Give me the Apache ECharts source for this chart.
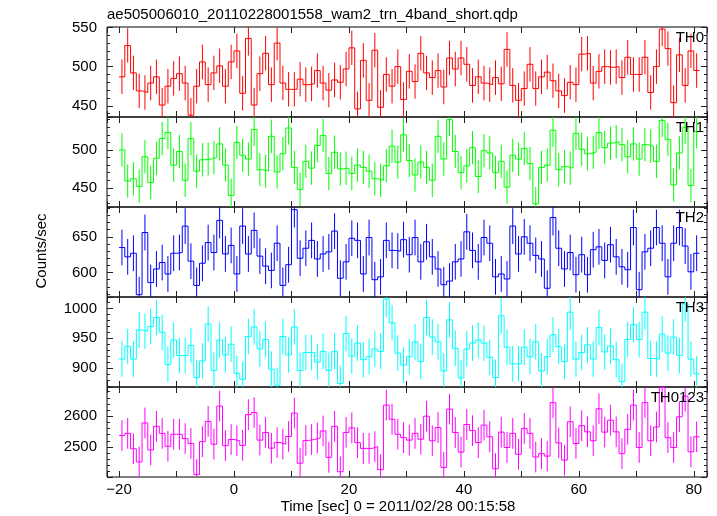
<!DOCTYPE html>
<html><head><meta charset="utf-8">
<script src="https://cdn.jsdelivr.net/npm/echarts@6/dist/echarts.min.js"></script>
<style>html,body{margin:0;padding:0;background:#fff}#c{width:717px;height:516px}</style>
</head><body><div id="c"></div>
<script>
const chartTitle = 'ae505006010_20110228001558_wam2_trn_4band_short.qdp';
const xTitle = 'Time [sec] 0 = 2011/02/28 00:15:58';
const yTitle = 'Counts/sec';
const bandNames = ['TH0', 'TH1', 'TH2', 'TH3', 'TH0123'];
const bandColors = ['#ff0000', '#00ff00', '#0000ff', '#00ffff', '#ff00ff'];
const binStart = -20;
const binWidth = 1;

const th0 = [487, 527, 492, 469, 467, 479, 487, 451, 475, 485, 491, 479, 438, 475, 506, 477, 492, 501, 475, 506,
  520, 466, 536, 451, 491, 517, 477, 530, 479, 471, 471, 484, 477, 478, 495, 479, 470, 483, 480, 497,
  524, 446, 508, 457, 521, 448, 490, 475, 500, 458, 494,
  481, 517, 492, 486, 495, 474, 511, 497, 511, 503, 476, 487, 479, 477, 486, 478, 522, 476, 457, 472,
  503, 472, 487, 493, 482, 469, 463, 480, 477, 516, 517, 479, 494, 500, 499, 500, 486, 512, 490, 490,
  512, 467, 500, 548, 523, 454, 515, 476, 520, 495];
const th1 = [500, 459, 462, 452, 491, 457, 489, 515, 523, 480, 498, 460, 515, 472, 487, 488, 490, 508, 480, 440,
  510, 493, 488, 527, 474, 472, 518, 471, 495, 529, 477, 448, 485, 476, 506, 519, 469, 497, 475, 476,
  469, 480, 477, 472, 462, 460, 479, 505, 484, 520, 486,
  467, 484, 477, 460, 518, 488, 540, 498, 470, 479, 503, 465, 499, 496, 470, 485, 451, 493, 488, 502,
  482, 429, 477, 480, 526, 474, 478, 476, 522, 501, 495, 497, 523, 503, 509, 511, 507, 491, 508, 488,
  507, 505, 485, 539, 514, 454, 496, 530, 453, 524];
const th2 = [635, 622, 627, 569, 656, 586, 605, 614, 598, 627, 628, 665, 616, 582, 613, 642, 628, 673, 626, 638,
  598, 665, 626, 659, 623, 609, 603, 641, 582, 611, 688, 620, 634, 645, 619, 626, 629, 658, 592, 615,
  648, 645, 598, 649, 590, 594, 645, 631, 630, 646, 625,
  649, 615, 643, 622, 605, 583, 588, 615, 619, 657, 631, 615, 649, 641, 594, 598, 591, 665, 626, 650,
  641, 624, 619, 578, 677, 634, 605, 628, 597, 625, 597, 632, 636, 617, 639, 622, 608, 604, 663, 576,
  629, 634, 663, 641, 594, 641, 663, 637, 601, 627];
const th3 = [915, 936, 915, 964, 962, 970, 985, 960, 906, 947, 921, 921, 938, 884, 912, 974, 896, 947, 922, 940,
  891, 881, 953, 969, 932, 948, 898, 871, 953, 922, 969, 896, 926, 926, 910, 928, 896, 928, 874, 958,
  920, 942, 914, 919, 932, 928, 1016, 976, 925, 905, 919,
  944, 911, 985, 952, 944, 895, 981, 933, 883, 932, 942, 947, 942, 918, 884, 988, 935, 907, 907, 935,
  919, 944, 895, 919, 956, 936, 911, 994, 915, 926, 939, 915, 968, 927, 937, 914, 877, 948, 973, 948,
  994, 916, 915, 957, 925, 952, 921, 1008, 915, 890];
const th0123 = [2537, 2544, 2494, 2451, 2578, 2490, 2567, 2544, 2502, 2541, 2541, 2527, 2511, 2410, 2517, 2583, 2509, 2633, 2504, 2524,
  2520, 2505, 2605, 2612, 2522, 2547, 2496, 2514, 2509, 2534, 2610, 2447, 2521, 2524, 2529, 2552, 2466, 2567, 2419, 2547,
  2562, 2514, 2495, 2495, 2501, 2426, 2636, 2590, 2541, 2530, 2522,
  2544, 2525, 2600, 2520, 2563, 2433, 2623, 2547, 2483, 2573, 2553, 2514, 2571, 2533, 2429, 2548, 2498, 2544, 2476, 2560,
  2544, 2467, 2478, 2470, 2644, 2513, 2457, 2582, 2511, 2569, 2549, 2520, 2624, 2548, 2587, 2549, 2478, 2557, 2636, 2498,
  2644, 2520, 2565, 2694, 2530, 2498, 2598, 2665, 2484, 2533];

const errHalf = [22, 22, 25, 30, 50];
const yMinVals = [435.7, 424.7, 565.8, 868, 2402];
const yMaxVals = [550.6, 543.5, 691.7, 1019.5, 2695];
const yStep = [50, 50, 50, 50, 100];
const xMin = -22.1, xMax = 82.3, xTickStep = 10, xLabelStep = 20;

const bands = [th0, th1, th2, th3, th0123];

const FONT = 'Liberation Sans, Helvetica, Arial, sans-serif';
const L = 107, R = 10, TOP = 27, PH = 90;
const tickStyle = { color: '#222', width: 1 };

function fmtNum(v) { return v < 0 ? '\u2212' + Math.abs(v) : String(v); }

const grids = [], xAxes = [], yAxes = [], series = [], graphics = [];
bands.forEach((vals, k) => {
  grids.push({ left: L, right: R, top: TOP + PH * k, height: PH, show: true, borderColor: '#000', borderWidth: 1, backgroundColor: 'transparent' });
  ['bottom', 'top'].forEach(pos => {
    xAxes.push({
      type: 'value', gridIndex: k, position: pos, min: xMin, max: xMax,
      minInterval: xTickStep, maxInterval: xTickStep, splitNumber: 10,
      axisLine: { show: false, onZero: false }, splitLine: { show: false },
      axisTick: { show: true, inside: true, length: 6, lineStyle: tickStyle },
      axisLabel: {
        show: pos === 'bottom' && k === bands.length - 1, margin: 5, fontSize: 15, color: '#000', fontFamily: FONT,
        showMinLabel: true, showMaxLabel: true,
        formatter: v => (Math.abs(v % xLabelStep) < 1e-6 ? fmtNum(v) : '')
      }
    });
  });
  ['left', 'right'].forEach(pos => {
    yAxes.push({
      type: 'value', gridIndex: k, position: pos, min: yMinVals[k], max: yMaxVals[k],
      minInterval: yStep[k], maxInterval: yStep[k], splitNumber: 2,
      axisLine: { show: false, onZero: false }, splitLine: { show: false },
      axisTick: { show: true, inside: true, length: 6, lineStyle: tickStyle },
      minorTick: { show: true, splitNumber: 5, length: 3, lineStyle: tickStyle },
      axisLabel: {
        show: pos === 'left', margin: 10, fontSize: 15, color: '#000', fontFamily: FONT,
        showMinLabel: true, showMaxLabel: true,
        formatter: v => (Math.abs(v % yStep[k]) < 1e-6 ? String(v) : '')
      }
    });
  });
  const color = bandColors[k];
  const stepData = vals.map((v, i) => [binStart + i * binWidth, v]);
  stepData.push([binStart + vals.length * binWidth, vals[vals.length - 1]]);
  series.push({
    type: 'line', xAxisIndex: 2 * k, yAxisIndex: 2 * k, step: 'end', data: stepData,
    showSymbol: false, symbol: 'none', clip: true, animation: false,
    lineStyle: { color: color, width: 1 }
  });
  const e = errHalf[k];
  series.push({
    type: 'custom', xAxisIndex: 2 * k, yAxisIndex: 2 * k, clip: true, animation: false,
    data: vals.map((v, i) => [binStart + (i + 0.5) * binWidth, v - e, v + e]),
    encode: { x: 0, y: [1, 2] },
    renderItem: (params, api) => {
      const x = api.value(0);
      const p1 = api.coord([x, api.value(1)]);
      const p2 = api.coord([x, api.value(2)]);
      return { type: 'line', shape: { x1: p1[0], y1: p1[1], x2: p2[0], y2: p2[1] }, style: { stroke: color, lineWidth: 1 } };
    }
  });
  graphics.push({
    type: 'text', x: 704, y: TOP + PH * k + 10.5, z: 100,
    style: { text: bandNames[k], fill: '#000', font: '15px ' + FONT, textAlign: 'right', textVerticalAlign: 'middle' }
  });
});

graphics.push({ type: 'text', x: 107, y: 14.8, style: { text: chartTitle, fill: '#000', font: '15px ' + FONT, textAlign: 'left', textVerticalAlign: 'middle' } });
graphics.push({ type: 'text', x: 398, y: 507, style: { text: xTitle, fill: '#000', font: '15px ' + FONT, textAlign: 'center', textVerticalAlign: 'middle' } });
graphics.push({ type: 'text', x: 41.5, y: 251, rotation: Math.PI / 2, style: { text: yTitle, fill: '#000', font: '15px ' + FONT, textAlign: 'center', textVerticalAlign: 'middle' } });

const chart = echarts.init(document.getElementById('c'), null, { renderer: 'canvas' });
chart.setOption({
  animation: false,
  backgroundColor: '#fff',
  grid: grids, xAxis: xAxes, yAxis: yAxes, series: series, graphic: graphics
});
</script>
</body></html>
